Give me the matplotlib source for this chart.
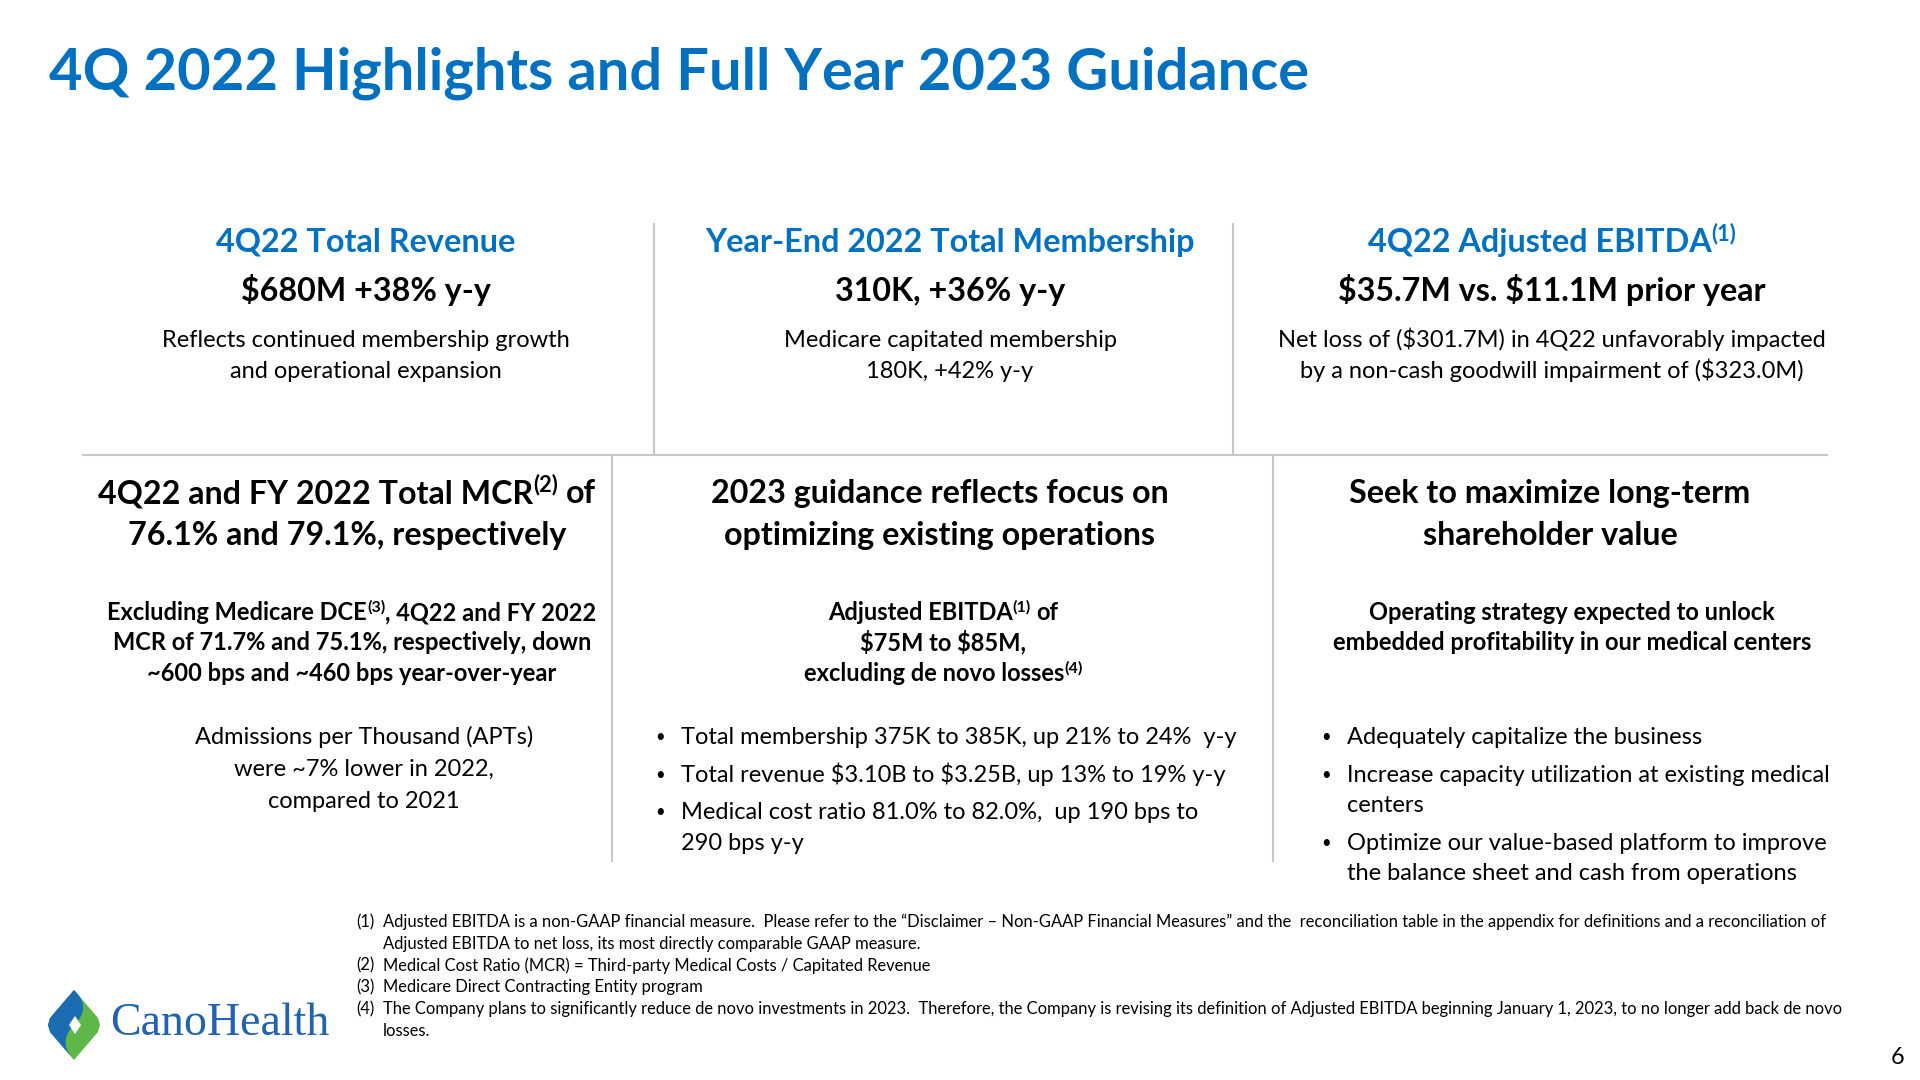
import matplotlib
matplotlib.use('Agg')
import matplotlib.pyplot as plt
from matplotlib.path import Path
from matplotlib.patches import PathPatch, Polygon

plt.rcParams['font.family'] = ['Lato', 'DejaVu Sans']
plt.rcParams['text.parse_math'] = False

BLUE = '#0070C0'
GRAY = '#C8C8C8'
PX = 100 / 72.0  # pixels per point at dpi 100

title = "4Q 2022 Highlights and Full Year 2023 Guidance"

# top row: heading (runs), value, description lines
top_heads = [[("4Q22 Total Revenue", False)],
             [("Year-End 2022 Total Membership", False)],
             [("4Q22 Adjusted EBITDA", False), ("(1)", True)]]
top_values = ["$680M +38% y-y", "310K, +36% y-y", "$35.7M vs. $11.1M prior year"]
top_desc = [["Reflects continued membership growth", "and operational expansion"],
            ["Medicare capitated membership", "180K, +42% y-y"],
            ["Net loss of ($301.7M) in 4Q22 unfavorably impacted",
             "by a non-cash goodwill impairment of ($323.0M)"]]

# bottom row
bot_heads = [[[("4Q22 and FY 2022 Total MCR", False), ("(2)", True), (" of", False)],
              [("76.1% and 79.1%, respectively", False)]],
             [[("2023 guidance reflects focus on", False)],
              [("optimizing existing operations", False)]],
             [[("Seek to maximize long-term", False)],
              [("shareholder value", False)]]]
bot_subs = [[[("Excluding Medicare DCE", False), ("(3)", True), (", 4Q22 and FY 2022", False)],
             [("MCR of 71.7% and 75.1%, respectively, down", False)],
             [("~600 bps and ~460 bps year-over-year", False)]],
            [[("Adjusted EBITDA", False), ("(1)", True), (" of", False)],
             [("$75M to $85M,", False)],
             [("excluding de novo losses", False), ("(4)", True)]],
            [[("Operating strategy expected to unlock", False)],
             [("embedded profitability in our medical centers", False)]]]
apt_lines = ["Admissions per Thousand (APTs)", "were ~7% lower in 2022,", "compared to 2021"]
guide_bullets = [["Total membership 375K to 385K, up 21% to 24%  y-y"],
                 ["Total revenue $3.10B to $3.25B, up 13% to 19% y-y"],
                 ["Medical cost ratio 81.0% to 82.0%,  up 190 bps to", "290 bps y-y"]]
value_bullets = [["Adequately capitalize the business"],
                 ["Increase capacity utilization at existing medical", "centers"],
                 ["Optimize our value-based platform to improve",
                  "the balance sheet and cash from operations"]]

footnotes = [("(1)", ["Adjusted EBITDA is a non-GAAP financial measure.  Please refer to the \u201cDisclaimer \u2013 Non-GAAP Financial Measures\u201d and the  reconciliation table in the appendix for definitions and a reconciliation of",
                      "Adjusted EBITDA to net loss, its most directly comparable GAAP measure."]),
             ("(2)", ["Medical Cost Ratio (MCR) = Third-party Medical Costs / Capitated Revenue"]),
             ("(3)", ["Medicare Direct Contracting Entity program"]),
             ("(4)", ["The Company plans to significantly reduce de novo investments in 2023.  Therefore, the Company is revising its definition of Adjusted EBITDA beginning January 1, 2023, to no longer add back de novo",
                      "losses."])]

fig = plt.figure(figsize=(19.2, 10.8), dpi=100)
ax = fig.add_axes([0, 0, 1, 1])
ax.set_xlim(0, 1920)
ax.set_ylim(1080, 0)
ax.axis('off')
renderer = fig.canvas.get_renderer()


def draw_runs(x, y, runs, size, weight='normal', color='black', ha='center'):
    """Draw a line made of normal/superscript pieces, centred on x."""
    items = []
    for txt, sup in runs:
        fs = size * 0.68 if sup else size
        dy = -size * PX * 0.36 if sup else 0
        t = ax.text(0, y + dy, txt.strip(), fontsize=fs, fontweight=weight,
                    color=color, va='baseline', ha='left', parse_math=False)
        lead = 0.23 * size * PX if txt.startswith(' ') else 0
        items.append((t, lead))
    widths = [t.get_window_extent(renderer).width for t, _ in items]
    total = sum(w + l for w, (_, l) in zip(widths, items))
    cur = x - total / 2 if ha == 'center' else x
    for (t, lead), w in zip(items, widths):
        cur += lead
        t.set_x(cur)
        cur += w


# title
ax.text(49, 89, title, fontsize=41.7, fontweight='bold', color=BLUE, va='baseline')

# grid lines
ax.plot([654, 654], [224, 453], color=GRAY, lw=1.5)
ax.plot([1233, 1233], [224, 453], color=GRAY, lw=1.5)
ax.plot([83, 1827], [455, 455], color=GRAY, lw=1.5)
ax.plot([612, 612], [457, 861], color=GRAY, lw=1.5)
ax.plot([1273, 1273], [457, 861], color=GRAY, lw=1.5)

BODY = 17.0

# top row
top_x = [366, 950, 1552]
for i, cx in enumerate(top_x):
    draw_runs(cx, 252, top_heads[i], 23.3, 'bold', BLUE)
    ax.text(cx, 301, top_values[i], fontsize=23.2, fontweight='bold', ha='center',
            va='baseline', parse_math=False)
    for j, line in enumerate(top_desc[i]):
        ax.text(cx, 347 + 31 * j, line, fontsize=BODY, ha='center', va='baseline',
                parse_math=False)

# bottom headings
head_x = [347, 940, 1550]
for i, cx in enumerate(head_x):
    for j, runs in enumerate(bot_heads[i]):
        draw_runs(cx, 503 + 42 * j, runs, 23.2, 'bold')

sub_x = [352, 943, 1572]
for i, cx in enumerate(sub_x):
    for j, runs in enumerate(bot_subs[i]):
        draw_runs(cx, 620 + 30.5 * j, runs, 17.0, 'bold')

for j, line in enumerate(apt_lines):
    ax.text(364, 744 + 32 * j, line, fontsize=BODY, ha='center', va='baseline')


def draw_bullets(xb, xt, y0, bullets, gap, wrap):
    y = y0
    for item in bullets:
        ax.text(xb, y - 2, "\u2022", fontsize=12, ha='left', va='baseline')
        for k, line in enumerate(item):
            ax.text(xt, y, line, fontsize=BODY, ha='left', va='baseline', parse_math=False)
            if k < len(item) - 1:
                y += wrap
        y += gap


draw_bullets(655, 681, 744, guide_bullets, 37.5, 31)
draw_bullets(1321, 1347, 744, value_bullets, 37.5, 30.5)

# footnotes
fy = 927
for num, lines in footnotes:
    ax.text(356, fy, num, fontsize=11.9, va='baseline')
    for line in lines:
        ax.text(383, fy, line, fontsize=11.9, va='baseline', parse_math=False)
        fy += 21.8

# page number
ax.text(1898, 1064, "6", fontsize=17, ha='center', va='baseline')

# logo
outer = [(74, 990), (98, 1018), (100, 1025), (98, 1032), (74, 1060),
         (50, 1032), (48, 1025), (50, 1018)]
ax.add_patch(Polygon(outer, closed=True, facecolor='#5DB848', edgecolor='none'))
verts = [(74, 990), (50, 1018), (48, 1025), (50, 1032), (74, 1060),
         (60, 1045), (66, 1033), (74, 1025),
         (82, 1017), (90, 1005), (74, 990)]
codes = [Path.MOVETO, Path.LINETO, Path.LINETO, Path.LINETO, Path.LINETO,
         Path.CURVE4, Path.CURVE4, Path.CURVE4,
         Path.CURVE4, Path.CURVE4, Path.CURVE4]
ax.add_patch(PathPatch(Path(verts, codes), facecolor='#1C6CB4', edgecolor='none'))
ax.add_patch(Polygon([(75, 1016), (81, 1025), (75, 1034), (69, 1025)], closed=True,
                     facecolor='white', edgecolor='none'))
ax.text(110, 1035, "CanoHealth", fontsize=33, family='Liberation Serif',
        color='#2263AD', va='baseline')

fig.savefig('out.png', dpi=100)
